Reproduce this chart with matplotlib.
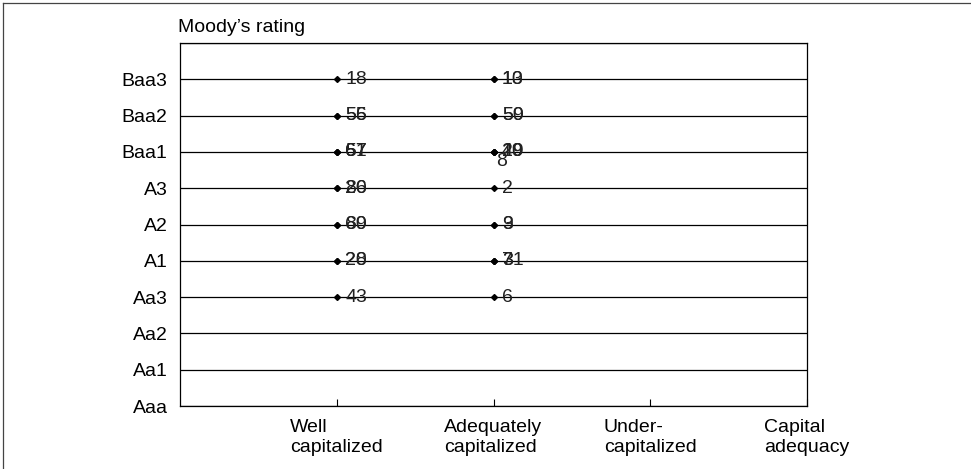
"""
Moody's rating vs. capital adequacy category, with bank labels.
"""
import matplotlib
matplotlib.use("Agg")
import matplotlib.pyplot as plt
from matplotlib.lines import Line2D

plt.rcParams["font.family"] = ["Liberation Sans", "DejaVu Sans"]

# ---------------------------------------------------------------------------
# Data
# ---------------------------------------------------------------------------
ratings = ["Aaa", "Aa1", "Aa2", "Aa3", "A1", "A2", "A3", "Baa1", "Baa2", "Baa3"]
capital_cats = ["Well\ncapitalized", "Adequately\ncapitalized", "Under-\ncapitalized", "Capital\nadequacy"]

well_ratings = ["Baa3", "Baa2", "Baa2", "Baa1", "Baa1", "Baa1", "A3", "A3",
                "A2", "A2", "A1", "A1", "Aa3"]
well_labels = ["18", "56", "55", "67", "61", "57", "86", "20",
               "60", "89", "20", "28", "43"]

adequate_ratings = ["Baa3", "Baa3", "Baa2", "Baa2", "Baa1", "Baa1", "Baa1", "Baa1",
                    "A3", "A2", "A2", "A1", "A1", "A1", "Aa3"]
adequate_labels = ["10", "13", "50", "59", "40", "29", "19", "8",
                   "2", "9", "3", "3", "7", "31", "6"]
adequate_below = ["8"]   # label drawn under the marker

FS = 14

# ---------------------------------------------------------------------------
# Plot
# ---------------------------------------------------------------------------
fig = plt.figure(figsize=(9.71, 4.69), dpi=100)
ax = fig.add_axes([0.1854, 0.1343, 0.6457, 0.7740])

ypos = {r: i for i, r in enumerate(ratings)}
for i in range(len(ratings) + 1):
    ax.axhline(i, color="black", lw=0.9, zorder=1)

for xi, rats, labs in [(1, well_ratings, well_labels),
                       (2, adequate_ratings, adequate_labels)]:
    ys = [ypos[r] for r in rats]
    ax.plot([xi] * len(ys), ys, linestyle="none", marker="D",
            markersize=3, color="black", zorder=3)
    for y, lab in zip(ys, labs):
        if xi == 2 and lab in adequate_below:
            ax.annotate(lab, (xi, y), xytext=(2, -1), textcoords="offset points",
                        ha="left", va="top", fontsize=FS, color="#222222")
        else:
            ax.annotate(lab, (xi, y), xytext=(6, 0), textcoords="offset points",
                        ha="left", va="center", fontsize=FS, color="#222222")

ax.set_xlim(0, 4)
ax.set_ylim(0, len(ratings))
ax.set_yticks(range(len(ratings)))
ax.set_yticklabels(ratings, fontsize=FS)
ax.tick_params(axis="y", length=0, pad=9)
ax.set_xticks([1, 2, 3, 4])
ax.set_xticklabels(capital_cats, fontsize=FS, multialignment="left",
                   linespacing=1.25)
ax.tick_params(axis="x", direction="in", length=5, width=0.8, pad=9)
for s in ax.spines.values():
    s.set_color("black")
    s.set_linewidth(0.9)

fig.text(178 / 971, 1 - 27 / 469, "Moody\u2019s rating", fontsize=FS,
         ha="left", va="center")

# outer frame (top and left edges visible)
fig.add_artist(Line2D([3 / 971, 3 / 971], [0, 1 - 3 / 469], transform=fig.transFigure,
                      color="#444444", lw=0.9))
fig.add_artist(Line2D([3 / 971, 1], [1 - 3 / 469, 1 - 3 / 469], transform=fig.transFigure,
                      color="#444444", lw=0.9))

fig.savefig("out.png", dpi=100)
